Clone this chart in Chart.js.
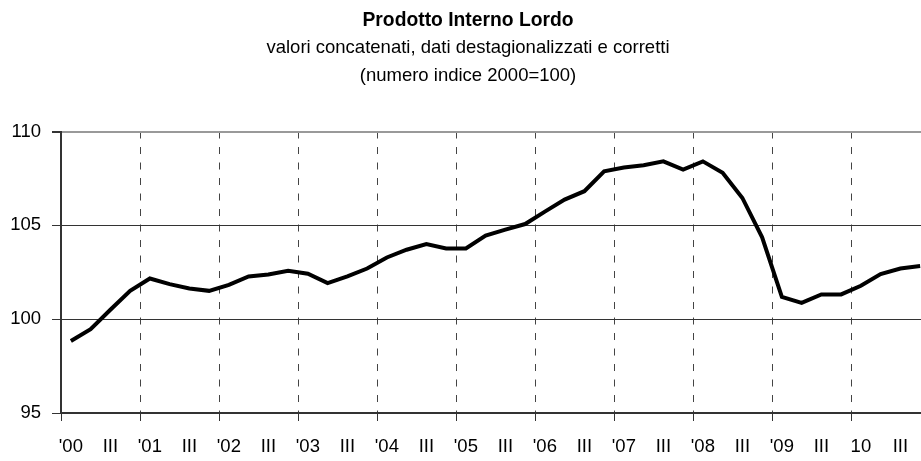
<!DOCTYPE html>
<html>
<head>
<meta charset="utf-8">
<script src="https://cdn.jsdelivr.net/npm/chart.js@4"></script>
<style>
html,body{margin:0;padding:0;background:#fff;overflow:hidden;width:921px;height:461px}
#wrap{position:absolute;left:0;top:0;width:940px;height:473px}
</style>
</head>
<body>
<div id="wrap"><canvas id="c"></canvas></div>
<script>
// ---- data ----
const chartTitle = "Prodotto Interno Lordo";
const chartSubtitle = ["valori concatenati, dati destagionalizzati e corretti", "(numero indice 2000=100)"];
const years = ["'00","'01","'02","'03","'04","'05","'06","'07","'08","'09","10"];
const quarterTick = "III";
const gdpIndex = [
  98.84, 99.47, 100.50, 101.51,   // 2000
  102.17, 101.87, 101.64, 101.51, // 2001
  101.83, 102.28, 102.38, 102.58, // 2002
  102.42, 101.92, 102.28, 102.70, // 2003
  103.29, 103.70, 104.00, 103.77, // 2004
  103.77, 104.45, 104.77, 105.07, // 2005
  105.73, 106.37, 106.82, 107.88, // 2006
  108.08, 108.20, 108.41, 107.97, // 2007
  108.41, 107.80, 106.46, 104.36, // 2008
  101.19, 100.87, 101.32, 101.32, // 2009
  101.78, 102.40, 102.70, 102.83  // 2010
];
const yTicks = [95, 100, 105, 110];

// quarterly category labels: year at Q1, "III" at Q3
const labels = [];
years.forEach(y => { labels.push(y, "", quarterTick, ""); });

const FONT = "'Liberation Sans', Arial, sans-serif";
const T = 'rgba(0,0,0,0)';

new Chart(document.getElementById('c'), {
  type: 'line',
  data: {
    labels: labels,
    datasets: [{
      data: gdpIndex,
      borderColor: '#000',
      borderWidth: 4,
      pointRadius: 0,
      tension: 0,
      fill: false,
      borderJoinStyle: 'miter'
    }]
  },
  options: {
    responsive: true,
    maintainAspectRatio: false,
    animation: false,
    devicePixelRatio: 1,
    layout: { padding: { left: 6, right: 10, top: 0, bottom: 0 } },
    plugins: {
      legend: { display: false },
      tooltip: { enabled: false },
      title: {
        display: true, text: chartTitle, color: '#000',
        font: { family: FONT, size: 19.3, weight: 'bold', lineHeight: 1.2 },
        padding: { top: 9.4, bottom: 1.1 }
      },
      subtitle: {
        display: true, text: chartSubtitle, color: '#000',
        font: { family: FONT, size: 18.5, weight: 'normal', lineHeight: 1.51 },
        padding: { top: 0, bottom: 42 }
      }
    },
    scales: {
      x: {
        type: 'category',
        offset: true,
        grid: {
          offset: true,
          color: c => (c.index !== undefined && c.index % 4 === 0 && c.index > 0) ? '#444' : T,
          lineWidth: 1,
          tickColor: c => (c.index !== undefined && c.index % 4 === 0) ? '#333' : T,
          tickLength: 8,
          tickWidth: 1,
          tickBorderDash: []
        },
        border: { display: true, color: '#333', width: 2, dash: [7, 8.5] },
        ticks: {
          autoSkip: false, maxRotation: 0, minRotation: 0,
          color: '#000', padding: 14.9,
          font: { family: FONT, size: 18.5, lineHeight: 1.2 }
        }
      },
      y: {
        min: yTicks[0], max: yTicks[yTicks.length - 1],
        afterBuildTicks: s => { s.ticks = yTicks.map(v => ({ value: v })); },
        afterFit: s => { s.width = 55; },
        grid: {
          color: c => (c.tick && c.tick.value === 110) ? '#999' : '#333',
          lineWidth: c => (c.tick && c.tick.value === 110) ? 2 : 1,
          tickColor: '#333',
          tickLength: 9
        },
        border: { display: true, color: '#333', width: 2 },
        ticks: {
          color: '#000', padding: 11,
          font: { family: FONT, size: 18.5, lineHeight: 1.2 }
        }
      }
    }
  }
});
</script>
</body>
</html>
